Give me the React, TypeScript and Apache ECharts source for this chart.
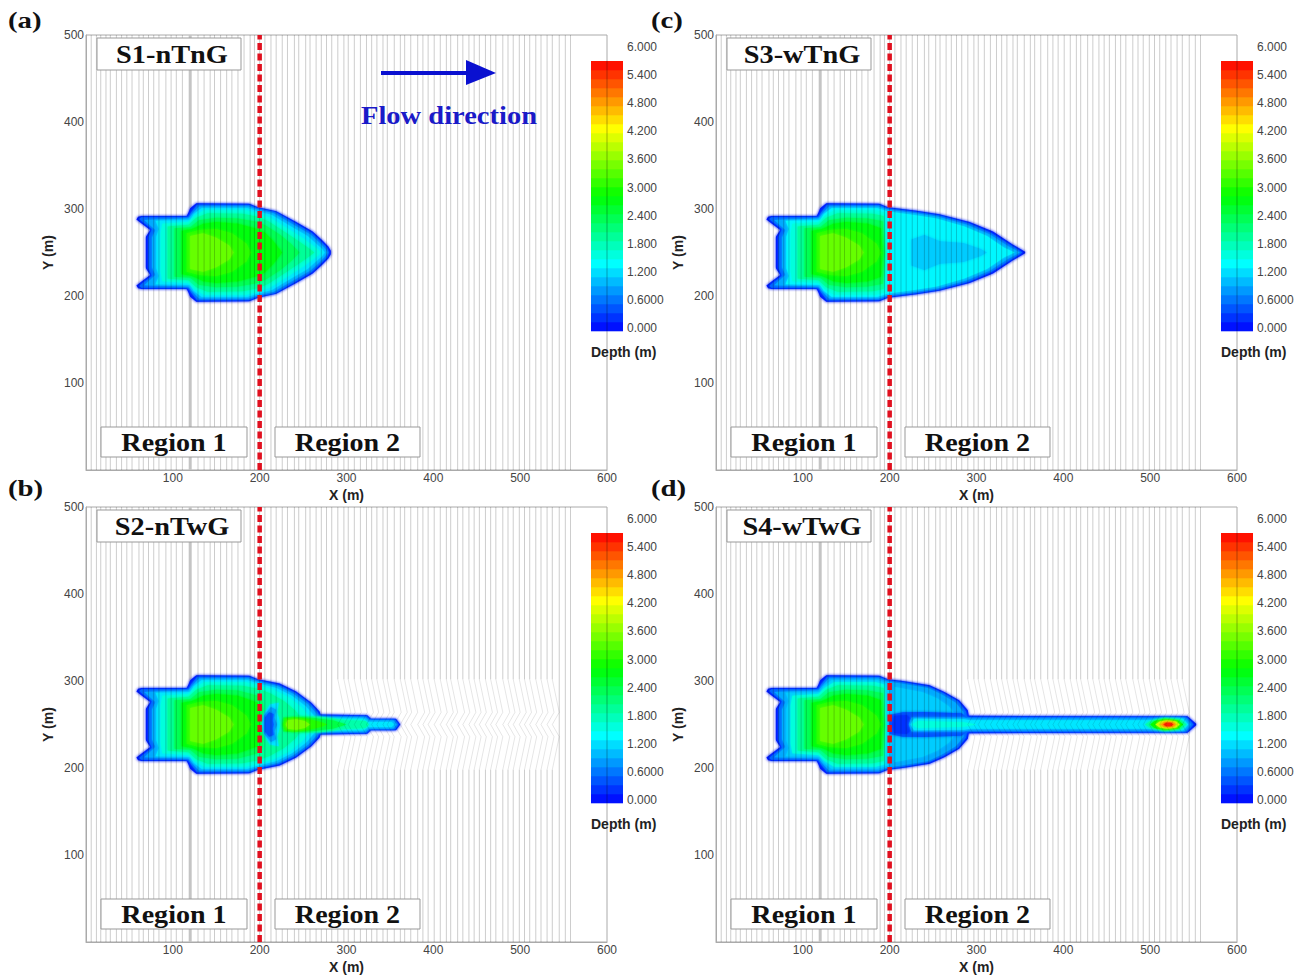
import React, { useEffect, useRef } from "react";
import * as echarts from "echarts";

type Pt = [number, number];
type Contour = { depth: number; pts: Pt[] };

// ---- mesh stations (vertical grid lines), X in metres
const meshX = [6,12,17,23,28,35,41,47,53,61,66,72,78,84,92,98,104,111,129,136,143,148,155,162,168,175,182,189,194,200,206,213,219,226,232,240,245,253,258,265,271,277,283,290,297,302,309,316,323,329,335,342,347,355,362,367,374,382,388,394,401,408,415,420,428,434,441,447,453,460,466,472,480,486,492,499,505,511,518,524,531,537,545,552,558];
const thickMeshX = [120];
const bendFromX = 285;
const bendToX = 540;
const bendProfile: Pt[] = [[302,0],[264,8],[250,0],[236,8],[198,0]];

// ---- colour scale
const scaleStops = ["#0000ff", "#00ffff", "#00ff00", "#ffff00", "#ff0000"];
const scaleMax = 6;
const scaleBands = 30;
const colorbarTicks = ["6.000","5.400","4.800","4.200","3.600","3.000","2.400","1.800","1.200","0.6000","0.000"];

// ---- contours: upper half outlines as [X, half width about Y=250]
const up0: Pt[] = [[69,0],[69,18],[74,26],[58,38],[60,41],[64,42],[116,42],[118,46],[120,51],[127,56.5],[188,56],[198,52]];
const up1: Pt[] = [[72,0],[72,18],[76,27],[61,38.5],[64,40.5],[118,40.5],[121,46],[128,55],[188,54.5],[198,50.5]];
const up2: Pt[] = [[76,0],[76,17],[80,26],[67,37.5],[118,39],[123,45],[130,53],[187,53],[198,49]];
const up3: Pt[] = [[81,0],[81,18],[84,27],[80,36.5],[120,37],[124,44],[133,51],[186,51],[198,47]];
const up4: Pt[] = [[86,0],[86,22],[88,33],[118,35],[125,42],[136,48.5],[184,48.5]];
const up5: Pt[] = [[94,0],[94,30],[118,32],[127,40],[140,45],[180,44.5]];
const up6: Pt[] = [[102,0],[102,28],[120,29],[130,37],[150,40],[175,39]];
const up7: Pt[] = [[110,0],[110,25],[122,27],[135,33],[150,35],[175,33]];
const up8: Pt[] = [[116,0],[116,22],[130,26],[150,27],[168,22],[185,10],[190,0]];
const up9: Pt[] = [[120,0],[120,19],[135,22],[150,17],[165,8],[170,0]];

const levelDepths = [0.15,0.6,1.0,1.35,1.7,2.1,2.5,2.9,3.25,3.6];

// S1: the front, no drop at X=200
const s1Down0: Pt[] = [[219,47.5],[242,35],[261,24],[272,14],[279,7],[282,2],[282,0]];
const s1Down1: Pt[] = [[218,46.5],[241,33.5],[260,22.5],[270,13],[277,6],[280,0]];
const s1Down2: Pt[] = [[216,45],[239,32],[258,21],[268,12],[275,5],[278,0]];
const s1Down3: Pt[] = [[214,43],[236,30],[255,19],[265,10],[272,4],[275,0]];
const s1Down4: Pt[] = [[198,45],[212,40],[233,27],[250,16],[261,8],[268,3],[270,0]];
const s1Down5: Pt[] = [[198,41],[210,36],[230,23],[245,13],[255,6],[263,0]];
const s1Down6: Pt[] = [[198,35],[207,31],[224,20],[236,10],[246,0]];
const s1Down7: Pt[] = [[198,27],[206,23],[216,13],[226,0]];

// closures at the drop for S3 and S4
const close4: Pt[] = [[194,46],[196,0]];
const close5: Pt[] = [[193,42],[195,0]];
const close6: Pt[] = [[192,36],[194,0]];
const close7: Pt[] = [[190,28],[192,0]];

// S3
const s3Down0: Pt[] = [[231,48],[257,44],[292,35],[319,24],[342,9],[356,1],[356,0]];
const s3Down1: Pt[] = [[231,46.5],[257,42.5],[291,33.5],[317,22.5],[340,8],[353,0]];
const s3Down2: Pt[] = [[230,45],[256,41],[289,32],[315,21],[337,7],[350,0]];
const s3Down3: Pt[] = [[228,43],[254,39],[286,30],[312,19],[332,5.5],[344,0]];
const s3Patch: Pt[] = [[225,0],[225,15],[240,20],[258,13],[285,11],[305,4],[312,0]];

// S2
const s2Down0: Pt[] = [[223,47],[242,38],[259.5,25],[269,15],[270,11.5],[324,10.7],[328,6.5],[357,6.5],[362,0]];
const s2Down1: Pt[] = [[222,45.5],[241,36.5],[258,24],[267,14],[268.5,10],[323,9.5],[327,5.5],[356,5.5],[360,0]];
const s2Down2: Pt[] = [[221,44],[239,35],[256,23],[265,13],[267,8.5],[322,8],[326,4.5],[354,4.5],[358,0]];
const s2Down3: Pt[] = [[219,42],[237,33],[253,21],[262,11],[264,7],[320,6.5],[325,3],[352,3],[355,0]];
const s2Down4: Pt[] = [[198,45],[216,40],[234,31],[249,19],[257,9],[260,5.5],[318,5],[323,0]];
const s2Down5: Pt[] = [[198,41],[212,36],[228,27],[241,16],[248,7],[250,0]];
const s2Down6: Pt[] = [[198,33],[203,27],[206,0]];
const s2Down7: Pt[] = [[198,25],[200,0]];
const s2Blob1: Pt[] = [[203,0],[205,12],[212,23],[222,25],[220,14],[222,8],[224,0]];
const s2Blob2: Pt[] = [[205,0],[205,10],[213,20],[219,17],[217,8],[220,0]];
const s2Blob3: Pt[] = [[206,0],[206,8],[211,14],[216,12],[215,5],[216,0]];
const s2Jet1: Pt[] = [[224,0],[225,8],[235,10],[270,9],[300,5],[322,4],[326,0]];
const s2Jet2: Pt[] = [[226,0],[227,8],[238,9],[262,7.5],[285,4.5],[300,0]];
const s2Jet3: Pt[] = [[227,0],[229,7],[240,8],[255,6.5],[270,3],[278,0]];
const s2Jet4: Pt[] = [[230,0],[232,5],[242,6],[252,4],[258,0]];

// S4
const s4Down0: Pt[] = [[215,50],[246,45],[263,37.5],[280,28],[290,16.5],[291,10],[503,9.6],[543,9.6],[553,1],[553,0]];
const s4Down1: Pt[] = [[215,48.5],[245,43.5],[262,36],[279,26.5],[288,15],[289,8.2],[503,8.2],[542,8.2],[550,0]];
const s4Body: Pt[] = [[213,47],[244,42],[260,34.5],[276,25],[285,14],[286,0]];
const s4Patch: Pt[] = [[206,0],[206,43],[238,37],[255,30],[268,21],[276,11],[277,0]];
const s4Band: Pt[] = [[200,0],[200,11],[215,14],[240,14.5],[283,13],[289,8],[289,0]];
const s4Blob: Pt[] = [[203,0],[205,10],[220,11],[224,7],[224,0]];
const s4Jet1: Pt[] = [[222,0],[225,8],[285,8],[291,7],[503,7],[520,8],[541,7.5],[547,0]];
const s4Jet2: Pt[] = [[224,0],[228,6.5],[285,6],[293,5],[500,5],[515,7],[538,6.5],[544,0]];
const s4Jet3: Pt[] = [[226,0],[232,4],[285,2.5],[300,0]];
const s4Tip1: Pt[] = [[494,0],[500,4],[515,7],[535,6],[542,0]];
const s4Tip2: Pt[] = [[500,0],[505,4],[517,6.5],[532,5],[538,0]];
const s4Tip3: Pt[] = [[506,0],[511,3.5],[520,5],[530,3.5],[534,0]];
const s4Tip4: Pt[] = [[511,0],[516,2.5],[522,3],[528,2],[530,0]];
const s4Tip5: Pt[] = [[515,0],[518,2],[524,2],[527,0]];

const c = (depth: number, ...parts: Pt[][]): Contour => ({ depth, pts: parts.flat() });
const [d0,d1,d2,d3,d4,d5,d6,d7,d8,d9] = levelDepths;

const s1Contours: Contour[] = [
  c(d0,up0,s1Down0), c(d1,up1,s1Down1), c(d2,up2,s1Down2), c(d3,up3,s1Down3),
  c(d4,up4,s1Down4), c(d5,up5,s1Down5), c(d6,up6,s1Down6), c(d7,up7,s1Down7),
  c(d8,up8), c(d9,up9),
];
const s2Contours: Contour[] = [
  c(d0,up0,s2Down0), c(d1,up1,s2Down1), c(d2,up2,s2Down2), c(d3,up3,s2Down3),
  c(d4,up4,s2Down4), c(d5,up5,s2Down5), c(d6,up6,s2Down6), c(d7,up7,s2Down7),
  c(d8,up8), c(d9,up9),
  c(1.35,s2Blob1), c(0.95,s2Blob2), c(0.5,s2Blob3),
  c(2.0,s2Jet1), c(2.6,s2Jet2), c(3.2,s2Jet3), c(3.7,s2Jet4),
];
const s3Contours: Contour[] = [
  c(d0,up0,s3Down0), c(d1,up1,s3Down1), c(d2,up2,s3Down2), c(1.45,up3,s3Down3),
  c(1.2,s3Patch),
  c(d4,up4,close4), c(d5,up5,close5), c(d6,up6,close6), c(d7,up7,close7),
  c(d8,up8), c(d9,up9),
];
const s4Contours: Contour[] = [
  c(d0,up0,s4Down0), c(d1,up1,s4Down1), c(1.0,up2,s4Body), c(1.2,up3,s4Patch),
  c(0.5,s4Band), c(0.3,s4Blob),
  c(d4,up4,close4), c(d5,up5,close5), c(d6,up6,close6), c(d7,up7,close7),
  c(d8,up8), c(d9,up9),
  c(0.9,s4Jet1), c(1.35,s4Jet2), c(1.7,s4Jet3),
  c(2.0,s4Tip1), c(3.0,s4Tip2), c(4.2,s4Tip3), c(5.0,s4Tip4), c(5.8,s4Tip5),
];

const panelNames = ["S1-nTnG","S2-nTwG","S3-wTnG","S4-wTwG"];
const panelLetters = ["(a)","(b)","(c)","(d)"];
const region1Label = "Region 1";
const region2Label = "Region 2";
const flowLabel = "Flow direction";
const depthTitle = "Depth (m)";
const xTitle = "X (m)";
const yTitle = "Y (m)";

const hex = (h: string) => [1,3,5].map((i) => parseInt(h.slice(i,i+2),16));
function depthColor(d: number): string {
  const t = Math.min(0.9999, Math.max(0, d / scaleMax)) * (scaleStops.length - 1);
  const i = Math.floor(t);
  const a = hex(scaleStops[i]); const b = hex(scaleStops[i+1]); const f = t - i;
  return `rgb(${a.map((v,k)=>Math.round(v+(b[k]-v)*f)).join(",")})`;
}

const SANS = '"Liberation Sans", Arial, sans-serif';
const SERIF = '"Liberation Serif", "Times New Roman", serif';
const panels = [
  { left: 86, top: 35, contours: s1Contours, bent: false, letterX: 8, letterY: 20 },
  { left: 86, top: 507, contours: s2Contours, bent: true, letterX: 8, letterY: 488 },
  { left: 716, top: 35, contours: s3Contours, bent: false, letterX: 651, letterY: 20 },
  { left: 716, top: 507, contours: s4Contours, bent: true, letterX: 651, letterY: 488 },
];

function buildOption() {
  const grid: any[] = []; const xAxis: any[] = []; const yAxis: any[] = []; const series: any[] = []; const graphic: any[] = [];
  const labelStyle = { color: "#444", fontSize: 12, fontFamily: SANS };
  const nameStyle = { color: "#222", fontSize: 14, fontWeight: "bold", fontFamily: SANS };
  const hide0 = (v: number) => (v === 0 ? "" : String(v));

  panels.forEach((p, i) => {
    grid.push({ left: p.left, top: p.top, width: 521, height: 435, show: true, borderColor: "#aaa", borderWidth: 1, backgroundColor: "#fff" });
    xAxis.push({ type: "value", gridIndex: i, min: 0, max: 600, interval: 100, name: xTitle, nameLocation: "middle", nameGap: 18, nameTextStyle: nameStyle,
      axisLine: { show: true, lineStyle: { color: "#aaa" } }, axisTick: { show: false }, splitLine: { show: false }, axisLabel: { ...labelStyle, margin: 2, formatter: hide0 } });
    yAxis.push({ type: "value", gridIndex: i, min: 0, max: 500, interval: 100, name: yTitle, nameLocation: "middle", nameGap: 31, nameTextStyle: nameStyle,
      axisLine: { show: true, lineStyle: { color: "#aaa" } }, axisTick: { show: false }, splitLine: { show: false }, axisLabel: { ...labelStyle, margin: 2, formatter: hide0 } });

    series.push({ type: "custom", xAxisIndex: i, yAxisIndex: i, z: 1, silent: true, encode: { x: 0, y: 1 },
      data: thickMeshX.map((x) => [x, 250]),
      renderItem: (_: any, api: any) => {
        const a = api.coord([api.value(0), 0]); const b = api.coord([api.value(0), 500]);
        return { type: "line", shape: { x1: a[0], y1: a[1], x2: b[0], y2: b[1] }, style: { stroke: "#c4c4c4", lineWidth: 3 } };
      } });

    series.push({ type: "custom", xAxisIndex: i, yAxisIndex: i, z: 2, silent: true, encode: { x: 0, y: 1 },
      data: p.contours.map((k) => [k.pts[0][0], 250, k.depth]),
      renderItem: (params: any, api: any) => {
        const k = p.contours[params.dataIndex];
        const top = k.pts.map(([x, h]) => api.coord([x, 250 + h]));
        const bottom = k.pts.slice().reverse().map(([x, h]) => api.coord([x, 250 - h]));
        const fill = depthColor(k.depth);
        return { type: "polygon", shape: { points: [...top, ...bottom] }, style: { fill, shadowBlur: 3, shadowColor: fill } };
      } });

    series.push({ type: "custom", xAxisIndex: i, yAxisIndex: i, z: 3, silent: true, encode: { x: 0, y: 1 },
      data: meshX.map((x) => [x, 250]),
      renderItem: (_: any, api: any) => {
        const x = api.value(0);
        const stroke = "rgba(0,0,0,0.2)";
        if (p.bent && x >= bendFromX && x <= bendToX) {
          const upper = [api.coord([x, 500]), api.coord([x, bendProfile[0][0]])];
          const lower = [api.coord([x, bendProfile[bendProfile.length - 1][0]]), api.coord([x, 0])];
          const bend = bendProfile.map(([y, dx]) => api.coord([x + dx, y]));
          return { type: "group", children: [
            { type: "polyline", shape: { points: upper }, style: { stroke, lineWidth: 1, fill: "none" } },
            { type: "polyline", shape: { points: lower }, style: { stroke, lineWidth: 1, fill: "none" } },
            { type: "polyline", shape: { points: bend }, style: { stroke: "rgba(0,0,0,0.13)", lineWidth: 0.8, fill: "none" } },
          ] };
        }
        const a = api.coord([x, 0]); const b = api.coord([x, 500]);
        return { type: "line", shape: { x1: a[0], y1: a[1], x2: b[0], y2: b[1] }, style: { stroke, lineWidth: 1 } };
      } });

    series.push({ type: "line", xAxisIndex: i, yAxisIndex: i, z: 4, silent: true, showSymbol: false,
      data: [[200, 0], [200, 500]], lineStyle: { color: "#e0101f", width: 4.5, type: [7, 3.5] } });

    // annotation boxes
    const box = (x: number, y: number, w: number, h: number, text: string, sx: number, fs: number, tx?: number) => {
      graphic.push({ type: "rect", z: 10, shape: { x, y, width: w, height: h }, style: { fill: "#fff", stroke: "#999", lineWidth: 1 } });
      graphic.push({ type: "text", z: 11, x: tx ?? x + w / 2, y: y + h / 2, scaleX: sx, style: { text, font: `bold ${fs}px ${SERIF}`, fill: "#111", textAlign: "center", textVerticalAlign: "middle" } });
    };
    const ox = p.left; const oy = p.top;
    box(ox + 11, oy + 3, 144, 32, panelNames[i], 1.09, 26, ox + 86);
    box(ox + 15, oy + 392, 146, 30, region1Label, 1.08, 26);
    box(ox + 189, oy + 392, 145, 30, region2Label, 1.08, 26);

    // colour bar
    const barX = ox + 505; const barTop = oy + 26; const bandH = 9;
    for (let b = 0; b < scaleBands; b++) {
      graphic.push({ type: "rect", z: 20, shape: { x: barX, y: barTop + (scaleBands - 1 - b) * bandH, width: 32, height: bandH + 0.3 },
        style: { fill: depthColor(((b + 0.5) / scaleBands) * scaleMax) } });
    }
    graphic.push({ type: "line", z: 21, shape: { x1: ox + 521, y1: barTop, x2: ox + 521, y2: barTop + scaleBands * bandH }, style: { stroke: "rgba(0,0,0,0.3)", lineWidth: 1 } });
    colorbarTicks.forEach((t, k) => {
      graphic.push({ type: "text", z: 22, x: ox + 541, y: oy + 12 + k * 28.1, style: { text: t, font: `12px ${SANS}`, fill: "#444", textAlign: "left", textVerticalAlign: "middle" } });
    });
    if (i < 2) graphic.push({ type: "rect", z: 23, shape: { x: 664, y: oy + 255, width: 10, height: 18 }, style: { fill: "#fff" } });
    graphic.push({ type: "text", z: 22, x: ox + 505, y: oy + 317, style: { text: depthTitle, font: `bold 14px ${SANS}`, fill: "#222", textAlign: "left", textVerticalAlign: "middle" } });

    // panel letter
    graphic.push({ type: "text", z: 22, x: p.letterX, y: p.letterY, scaleX: 1.2, style: { text: panelLetters[i], font: `bold 24px ${SERIF}`, fill: "#111", textAlign: "left", textVerticalAlign: "middle" } });
  });

  // flow arrow in the first panel
  graphic.push({ type: "rect", z: 12, shape: { x: 381, y: 71, width: 87, height: 4 }, style: { fill: "#0a10d0" } });
  graphic.push({ type: "polygon", z: 12, shape: { points: [[466,60],[466,85],[496,73]] }, style: { fill: "#0a10d0" } });
  graphic.push({ type: "text", z: 12, x: 449, y: 116, scaleX: 1.14, style: { text: flowLabel, font: `bold 25px ${SERIF}`, fill: "#1a1ac8", textAlign: "center", textVerticalAlign: "middle" } });

  return { animation: false, backgroundColor: "#fff", grid, xAxis, yAxis, series, graphic };
}

export default function App() {
  const ref = useRef<HTMLDivElement>(null);
  useEffect(() => {
    if (!ref.current) return;
    const chart = echarts.init(ref.current, undefined, { renderer: "svg" });
    chart.setOption(buildOption() as any);
    return () => chart.dispose();
  }, []);
  return <div ref={ref} style={{ position: "absolute", left: 0, top: 0, width: 1306, height: 979 }} />;
}
